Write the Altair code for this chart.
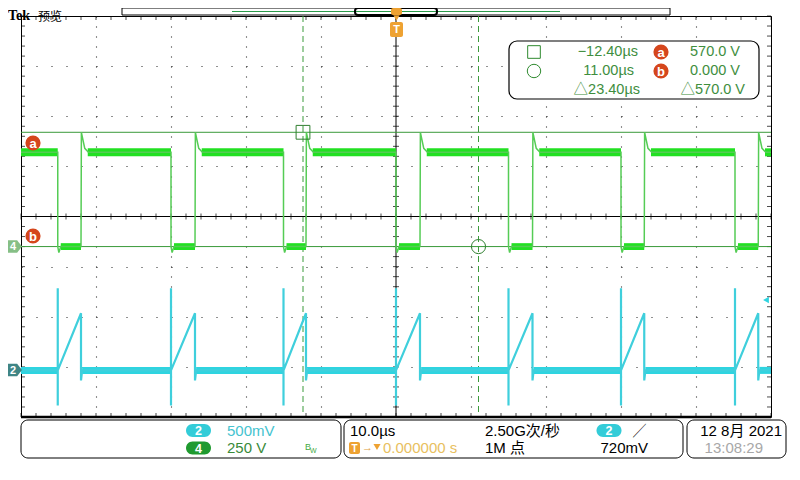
import altair as alt
import pandas as pd

T_DOMAIN = [-50.0, 50.0]      # 10 div x 10.0 µs/div, trigger at centre
DIV_DOMAIN = [-4.0, 4.0]      # 8 vertical divisions

# switch-on instants (green falls, cyan spikes / ramp starts), µs
on_times = [-45.1, -30.0, -15.0, 0.0, 15.0, 30.0, 45.2]
# switch-off instants (green rises, cyan ramp peak), µs
off_times = [-42.0, -26.8, -12.0, 3.2, 18.2, 33.1, 48.3]

# channel 4 (green) 250 V/div, ground marker 0.6 div below centre
ch4_vpd = 250.0
ch4_ground_div = -0.6
ch4_high = 470.0
ch4_low = 0.0
ch4_overshoot = 570.0
ch4_settle = 490.0
ch4_dip = -30.0

# channel 2 (cyan) 500 mV/div, ground marker 3.07 div below centre
ch2_vpd = 0.5
ch2_ground_div = -3.07
ch2_base = 0.0
ch2_ramp_peak = 0.57
ch2_spike_hi = 0.82
ch2_spike_lo = -0.35
ch2_dip = -0.10

# cursors
cursor_t = [-12.40, 11.00]
cursor_V = [570.0, 0.0]

# graticule
grid_t = [-40, -30, -20, -10, 10, 20, 30, 40]
grid_d = [-3, -2, -1, 1, 2, 3]
minor_t = [round(-50 + 2 * k, 2) for k in range(51)]
minor_d = [round(-4 + 0.2 * k, 2) for k in range(41)]

# ------------------------------------------------------------------ build tables
g_t, g_v = [T_DOMAIN[0]], [ch4_high]
for on, off in zip(on_times, off_times):
    g_t += [on, on, on + 0.15, on + 0.4, off, off + 0.05, off + 0.5, off + 1.0]
    g_v += [ch4_high, ch4_low, ch4_dip, ch4_low, ch4_low, ch4_overshoot, ch4_settle, ch4_high]
g_t.append(T_DOMAIN[1]); g_v.append(ch4_high)
green = pd.DataFrame({"t": g_t, "v": g_v, "i": range(len(g_t))})

c_t, c_v = [T_DOMAIN[0]], [ch2_base]
for on, off in zip(on_times, off_times):
    c_t += [on, on, on, on, off, off, off + 0.15]
    c_v += [ch2_base, ch2_spike_hi, ch2_spike_lo, ch2_base, ch2_ramp_peak, ch2_dip, ch2_base]
c_t.append(T_DOMAIN[1]); c_v.append(ch2_base)
cyan = pd.DataFrame({"t": c_t, "v": c_v, "i": range(len(c_t))})

GH, GL, CB = 20.0, 17.0, 0.035   # half-thickness of the noise bands (style)
g_hi = pd.DataFrame({"t0": [T_DOMAIN[0]] + [o + 0.9 for o in off_times],
                     "t1": on_times + [T_DOMAIN[1]]})
g_hi["v0"], g_hi["v1"] = ch4_high - GH, ch4_high + GH
g_lo = pd.DataFrame({"t0": [o + 0.4 for o in on_times], "t1": off_times})
g_lo["v0"], g_lo["v1"] = ch4_low - GL, ch4_low + GL
c_bd = pd.DataFrame({"t0": [T_DOMAIN[0]] + [o + 0.15 for o in off_times],
                     "t1": on_times + [T_DOMAIN[1]]})
c_bd["v0"], c_bd["v1"] = ch2_base - CB, ch2_base + CB

# ------------------------------------------------------------------ scales
xs = alt.Scale(domain=T_DOMAIN, nice=False, zero=False)
ys_div = alt.Scale(domain=DIV_DOMAIN, nice=False, zero=False)
ys4 = alt.Scale(domain=[(DIV_DOMAIN[0] - ch4_ground_div) * ch4_vpd,
                        (DIV_DOMAIN[1] - ch4_ground_div) * ch4_vpd], nice=False, zero=False)
ys2 = alt.Scale(domain=[(DIV_DOMAIN[0] - ch2_ground_div) * ch2_vpd,
                        (DIV_DOMAIN[1] - ch2_ground_div) * ch2_vpd], nice=False, zero=False)

FONT = "Liberation Sans, Noto Sans CJK SC, sans-serif"
CJK = "Noto Sans CJK SC"
GREEN_LINE = "#55cc55"
GREEN_BAND = "#22e022"
CYAN_LINE = "#3fcfdc"
CYAN_BAND = "#2ed4e0"
CUR = "#3a9a3a"
TXTG = "#3e8e3e"
ORANGE = "#eea232"
BADGE = "#d5461c"

# ------------------------------------------------------------------ graticule group
base = alt.Chart(pd.DataFrame({"t": [0.0], "d": [0.0]}))
grid = base.mark_point(opacity=0).encode(
    x=alt.X("t:Q", scale=xs, title="",
            axis=alt.Axis(values=grid_t, grid=True, gridDash=[1, 9], gridColor="#222",
                          gridWidth=1.1, labels=False, ticks=False, domain=False)),
    y=alt.Y("d:Q", scale=ys_div, title="",
            axis=alt.Axis(values=grid_d, grid=True, gridDash=[1, 14], gridColor="#222",
                          gridWidth=1.1, labels=False, ticks=False, domain=False)),
)
center_v = base.mark_rule(color="black", strokeWidth=1).encode(x=alt.X("t:Q", scale=xs))
center_h = base.mark_rule(color="black", strokeWidth=1).encode(y=alt.Y("d:Q", scale=ys_div))
bottom_rule = alt.Chart(pd.DataFrame({"d": [DIV_DOMAIN[0]]})).mark_rule(
    color="black", strokeWidth=2.5).encode(y=alt.Y("d:Q", scale=ys_div))


def ticks(df, orient, size, **off):
    return alt.Chart(df).mark_tick(orient=orient, size=size, thickness=1, color="black", **off).encode(
        x=alt.X("t:Q", scale=xs), y=alt.Y("d:Q", scale=ys_div))


tk_ch = ticks(pd.DataFrame({"t": minor_t, "d": 0.0}), "vertical", 6)
tk_cv = ticks(pd.DataFrame({"t": 0.0, "d": minor_d}), "horizontal", 6)
tk_b = ticks(pd.DataFrame({"t": minor_t, "d": DIV_DOMAIN[0]}), "vertical", 4, yOffset=-2)
tk_t = ticks(pd.DataFrame({"t": minor_t, "d": DIV_DOMAIN[1]}), "vertical", 4, yOffset=2)
tk_l = ticks(pd.DataFrame({"t": T_DOMAIN[0], "d": minor_d}), "horizontal", 4, xOffset=2)
tk_r = ticks(pd.DataFrame({"t": T_DOMAIN[1], "d": minor_d}), "horizontal", 4, xOffset=-2)

cur_v = alt.Chart(pd.DataFrame({"t": cursor_t})).mark_rule(
    color=CUR, strokeDash=[6, 4], strokeWidth=1).encode(x=alt.X("t:Q", scale=xs))

grid_group = alt.layer(grid, cur_v, center_v, center_h, tk_ch, tk_cv, tk_b, tk_t, tk_l, tk_r, bottom_rule)

# ------------------------------------------------------------------ channel 4 group
cur_h = alt.Chart(pd.DataFrame({"v": cursor_V})).mark_rule(color=CUR, strokeWidth=1).encode(
    y=alt.Y("v:Q", scale=ys4, axis=None))


def band(df, color, scale):
    return alt.Chart(df).mark_rect(color=color).encode(
        x=alt.X("t0:Q", scale=xs), x2="t1:Q",
        y=alt.Y("v0:Q", scale=scale, axis=None), y2="v1:Q")


g_line = alt.Chart(green).mark_line(color=GREEN_LINE, strokeWidth=1.5).encode(
    x=alt.X("t:Q", scale=xs), y=alt.Y("v:Q", scale=ys4, axis=None), order="i:Q")
mk_sq = alt.Chart(pd.DataFrame({"t": [cursor_t[0]], "v": [cursor_V[0]]})).mark_point(
    shape="square", filled=False, size=190, color="#2f7f2f", strokeWidth=1, opacity=1).encode(
    x=alt.X("t:Q", scale=xs), y=alt.Y("v:Q", scale=ys4, axis=None))
mk_ci = alt.Chart(pd.DataFrame({"t": [cursor_t[1]], "v": [cursor_V[1]]})).mark_point(
    shape="circle", filled=False, size=200, color="#2f7f2f", strokeWidth=1, opacity=1).encode(
    x=alt.X("t:Q", scale=xs), y=alt.Y("v:Q", scale=ys4, axis=None))
green_group = alt.layer(cur_h, band(g_hi, GREEN_BAND, ys4), band(g_lo, GREEN_BAND, ys4), g_line, mk_sq, mk_ci)

# ------------------------------------------------------------------ channel 2 group
c_line = alt.Chart(cyan).mark_line(color=CYAN_LINE, strokeWidth=2.2).encode(
    x=alt.X("t:Q", scale=xs), y=alt.Y("v:Q", scale=ys2, axis=None), order="i:Q")
cyan_group = alt.layer(band(c_bd, CYAN_BAND, ys2), c_line)

# ------------------------------------------------------------------ screen furniture (pixel positions)
one = pd.DataFrame({"k": [0]})


def txt(s, x, y, size=14.5, color="black", align="left", font=FONT, weight="normal", baseline="middle"):
    return alt.Chart(one).mark_text(align=align, baseline=baseline, fontSize=size, font=font,
                                    fontWeight=weight, color=color).encode(
        x=alt.value(x), y=alt.value(y), text=alt.value(s))


def box(x, x2, y, y2, fill="white", stroke="", radius=0, sw=1.0, fo=1.0):
    kw = dict(cornerRadius=radius, fill=fill, fillOpacity=fo)
    if stroke:
        kw["stroke"] = stroke
        kw["strokeWidth"] = sw
    else:
        kw["strokeWidth"] = 0
    return alt.Chart(one).mark_rect(**kw).encode(
        x=alt.value(x), x2=alt.value(x2), y=alt.value(y), y2=alt.value(y2))


def sym(shape, x, y, size, color, filled=True):
    return alt.Chart(one).mark_point(shape=shape, filled=filled, size=size, color=color, opacity=1,
                                     strokeWidth=1).encode(x=alt.value(x), y=alt.value(y))


def badge(letter, x, y):
    return [sym("circle", x, y, 230, BADGE), txt(letter, x, y + 0.5, size=13, color="white",
                                                 align="center", weight="bold")]


def pill(label, cx, cy, fill, w=25, h=13):
    return [box(cx - w / 2, cx + w / 2, cy - h / 2, cy + h / 2, fill=fill, radius=h / 2),
            txt(label, cx, cy + 0.5, size=12.5, color="white", align="center", weight="bold")]


TAG = "M-1,-0.9L0.3,-0.9L1,0L0.3,0.9L-1,0.9Z"

furniture = []
# title + record bar
furniture += [txt("Tek", -13, -7, size=14, weight="bold", font="Liberation Serif", baseline="top"),
              txt("预览", 17, -4.5, size=12, font=CJK, baseline="top"),
              box(101, 649, -8, -1, stroke="black"),
              alt.Chart(one).mark_rule(color="#2a9a4a", strokeWidth=1).encode(
                  x=alt.value(211), x2=alt.value(539), y=alt.value(-4.5)),
              box(334, 416, -8, -1, stroke="black", sw=2, radius=3, fo=0),
              box(370, 381, -8, -1, fill=ORANGE, radius=2),
              sym("triangle-down", 375.5, 2, 40, ORANGE),
              box(369, 382, 6, 21, fill=ORANGE, radius=2),
              txt("T", 375.5, 14, size=11, color="white", align="center", weight="bold")]
# left badges and channel tags
furniture += badge("a", 12, 127) + badge("b", 12, 220)
furniture += [sym(TAG, -6, 230.5, 196, "#86bf86"), txt("4", -8, 231, size=11, color="white", align="center", weight="bold"),
              sym(TAG, -6, 354, 196, "#3f8585"), txt("2", -8, 354.5, size=11, color="white", align="center", weight="bold")]
# trigger level arrow
furniture += [sym("triangle-left", 745, 284, 45, CYAN_BAND)]
# cursor readout
furniture += [box(488, 738, 25, 83, stroke="black", radius=8, sw=1.2),
              sym("square", 513, 36, 160, "#2f8a2f", filled=False),
              sym("circle", 513, 55, 180, "#2f8a2f", filled=False),
              txt("−12.40µs", 617, 36, color=TXTG, align="right"),
              txt("11.00µs", 613, 55, color=TXTG, align="right"),
              txt("△23.40µs", 619, 74, color=TXTG, align="right"),
              txt("570.0 V", 719, 36, color=TXTG, align="right"),
              txt("0.000 V", 719, 55, color=TXTG, align="right"),
              txt("△570.0 V", 724, 74, color=TXTG, align="right")]
furniture += badge("a", 640, 36) + badge("b", 640, 55)
# status bar: vertical settings
furniture += [box(0, 320, 404, 442, stroke="black", radius=7)]
furniture += pill("2", 177.5, 414.5, "#33ccd8") + pill("4", 177.5, 432, "#1f9a2f")
furniture += [txt("500mV", 206, 414.5, size=15, color="#45c3cf"),
              txt("250 V", 206, 432, size=15, color="#3a8a3a"),
              txt("B", 284, 431, size=9, color="#44aa44"),
              txt("W", 289, 435, size=7, color="#44aa44")]
# status bar: horizontal / trigger
furniture += [box(323, 662, 404, 442, stroke="black", radius=7),
              txt("10.0µs", 329, 414.5, size=15),
              box(328, 339, 426, 438, fill=ORANGE, radius=2),
              txt("T", 333.5, 432.5, size=10, color="white", align="center", weight="bold"),
              txt("→", 341, 432, size=11, color="#e0a040"),
              sym("triangle-down", 356, 431, 50, ORANGE),
              txt("0.000000 s", 362, 432, size=15, color="#e8c060"),
              txt("2.50G次/秒", 464, 414.5, size=15),
              txt("1M 点", 464, 432, size=15),
              txt("╱", 612, 414.5, size=13),
              txt("720mV", 627, 432, size=15, align="right")]
furniture += pill("2", 588, 414.5, "#33ccd8")
# status bar: date
furniture += [box(666, 765, 404, 442, stroke="black", radius=7),
              txt("12 8月 2021", 761, 414.5, size=15, align="right"),
              txt("13:08:29", 742, 432, size=15, color="#a8a8a8", align="right")]

chart = alt.layer(grid_group, green_group, cyan_group, *furniture).resolve_scale(
    y="independent"
).properties(
    width=750, height=401,
    autosize=alt.AutoSizeParams(type="none"),
    padding={"left": 13, "top": 8, "right": 17, "bottom": 47},
    background="white",
).configure_view(stroke="black", strokeWidth=1)

chart.save("out.html", embed_options={"renderer": "svg", "actions": False})
